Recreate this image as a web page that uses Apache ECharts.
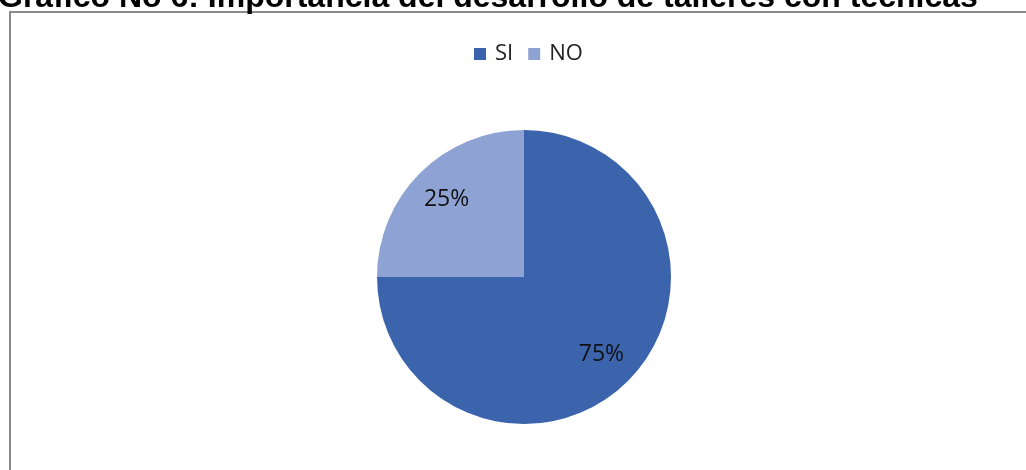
<!DOCTYPE html>
<html>
<head>
<meta charset="utf-8">
<script src="https://cdn.jsdelivr.net/npm/echarts@6/dist/echarts.min.js"></script>
<style>
html,body{margin:0;padding:0;background:#fff;}
#chart{width:1026px;height:470px;}
</style>
</head>
<body>
<div id="chart"></div>
<script>
const titleText = 'Gráfico No 6: Importancia del desarrollo de talleres con técnicas';
const categories = ['SI', 'NO'];
const values = [75, 25];
const colors = ['#3c64ac', '#8ea3d4'];

const pieData = categories.map((c, i) => ({ name: c, value: values[i] }));

const chart = echarts.init(document.getElementById('chart'));
chart.setOption({
  animation: false,
  backgroundColor: '#ffffff',
  color: colors,
  title: {
    text: titleText,
    left: -2,
    top: -18,
    padding: 0,
    textStyle: { fontFamily: 'Liberation Sans', fontWeight: 'bold', fontSize: 32, color: '#000' }
  },
  graphic: [{
    type: 'rect',
    silent: true,
    shape: { x: 10, y: 12, width: 1100, height: 600 },
    style: { fill: 'none', stroke: '#8a8a8a', lineWidth: 2 }
  }],
  legend: {
    data: categories,
    top: 43,
    left: 474,
    padding: 0,
    itemWidth: 12,
    itemHeight: 12,
    itemGap: 15,
    icon: 'rect',
    textStyle: { fontFamily: 'Open Sans', fontSize: 22, color: '#222', padding: [0, 0, 0, 4] }
  },
  series: [{
    type: 'pie',
    center: [524, 277],
    radius: [0, 147],
    startAngle: 90,
    clockwise: true,
    label: { show: false },
    labelLine: { show: false },
    emphasis: { disabled: true },
    itemStyle: { borderWidth: 0 },
    data: pieData
  }, {
    type: 'pie',
    center: [524, 277],
    radius: [66, 147],
    startAngle: 90,
    clockwise: true,
    silent: true,
    legendHoverLink: false,
    itemStyle: { color: 'rgba(0,0,0,0)', borderWidth: 0 },
    label: {
      show: true,
      position: 'inside',
      formatter: p => p.value + '%',
      fontFamily: 'Open Sans',
      fontSize: 23,
      color: '#111'
    },
    labelLine: { show: false },
    emphasis: { disabled: true },
    data: pieData
  }]
});
</script>
</body>
</html>
